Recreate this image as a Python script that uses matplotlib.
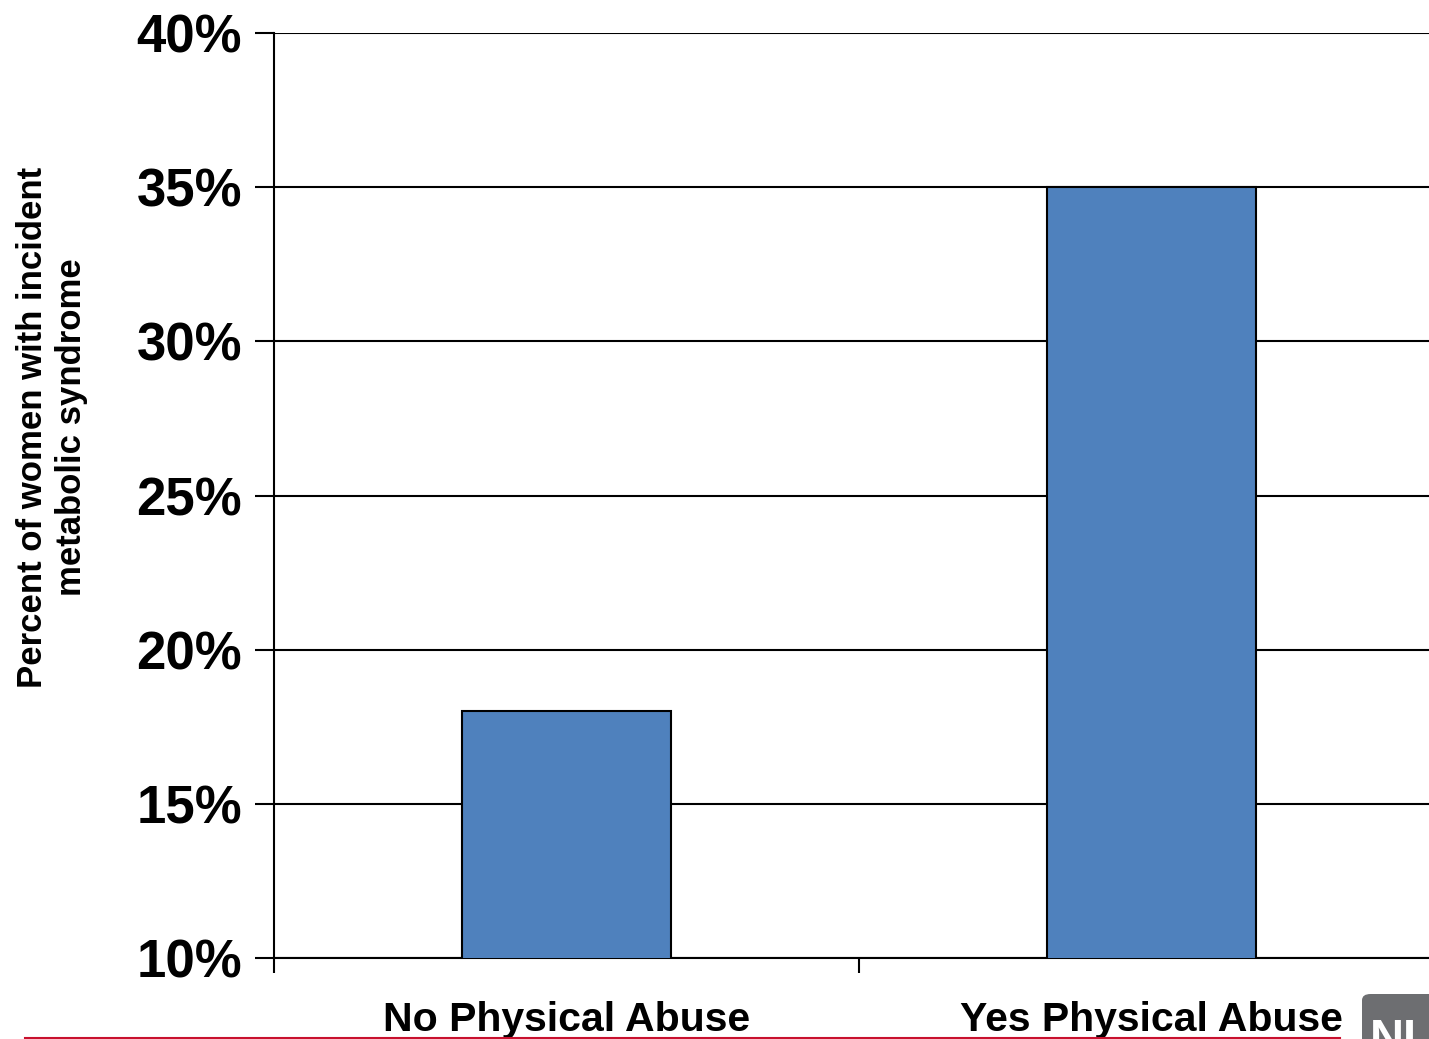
import matplotlib
matplotlib.use('Agg')
import matplotlib.pyplot as plt
import matplotlib.ticker as ticker
from matplotlib.patches import FancyBboxPatch

# data
categories = ['No Physical Abuse', 'Yes Physical Abuse']
values = [18, 35]
yticks = [10, 15, 20, 25, 30, 35, 40]

plt.rcParams['font.family'] = ['Liberation Sans', 'DejaVu Sans']
plt.rcParams['font.weight'] = 'bold'

W, H = 1429, 1039
fig = plt.figure(figsize=(W / 100, H / 100), dpi=100)

# axes run past the right edge like the original slide
left, right, top, bottom = 274, 1444, 33, 958
ax = fig.add_axes([left / W, 1 - bottom / H, (right - left) / W, (bottom - top) / H])

pos = [0.5, 1.5]
ax.bar(pos, values, width=0.357, color='#4F81BD', edgecolor='black', linewidth=1.5,
       bottom=0, zorder=3)
ax.set_xlim(0, 2)
ax.set_ylim(10, 40)

ax.set_yticks(yticks)
ax.yaxis.set_major_formatter(ticker.FuncFormatter(lambda v, p: '%d%%' % v))
ax.tick_params(axis='y', length=14, width=1.5, labelsize=38, pad=9)
ax.grid(axis='y', color='black', linewidth=1.5, zorder=1)

ax.set_xticks([0, 1, 2])
ax.set_xticklabels([])
ax.set_xticks(pos, minor=True)
ax.set_xticklabels(categories, minor=True, fontsize=29.5, fontweight='bold')
ax.tick_params(axis='x', which='major', length=11, width=1.5)
ax.tick_params(axis='x', which='minor', length=0, pad=31)

for s in ['top', 'right']:
    ax.spines[s].set_visible(False)
ax.spines['left'].set_linewidth(1.5)
ax.spines['bottom'].set_linewidth(1.5)

fig.text(52 / W, 1 - 427 / H, 'Percent of women with incident\nmetabolic syndrome',
         rotation=90, ha='center', va='center', fontsize=25, fontweight='bold',
         linespacing=1.25)

# red footer line and the cut-off logo
fig.add_artist(plt.Line2D([25 / W, 1340 / W], [1 - 1038 / H, 1 - 1038 / H],
                          color='#C8102E', linewidth=1.5))
logo = FancyBboxPatch((1362 / W, 1 - 1060 / H), 120 / W, 66 / H,
                      boxstyle='round,pad=0,rounding_size=0.006',
                      transform=fig.transFigure, facecolor='#6D6E71', edgecolor='none')
fig.add_artist(logo)
fig.text(1370 / W, 1 - 1040 / H, 'NI', color='white', fontsize=34, fontweight='bold',
         va='center', ha='left')

fig.savefig('out.png', dpi=100)
